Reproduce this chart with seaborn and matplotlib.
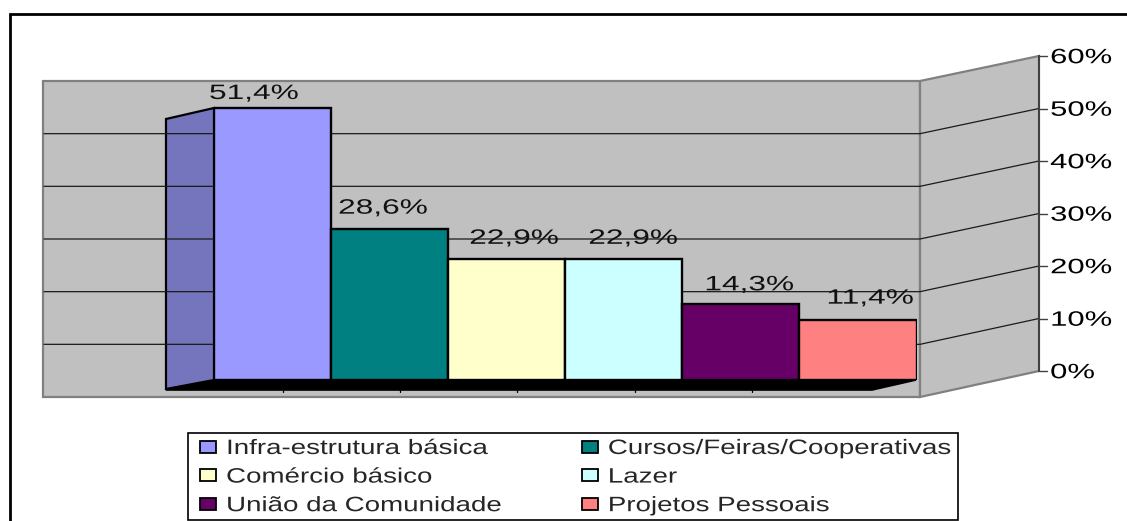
import matplotlib
matplotlib.use("Agg")
import matplotlib.pyplot as plt
import matplotlib.patheffects as pe
from matplotlib.patches import Patch, Polygon, Rectangle
from matplotlib.transforms import Affine2D
import seaborn as sns

# ---- data ----
categories = ["Infra-estrutura básica", "Cursos/Feiras/Cooperativas", "Comércio básico",
              "Lazer", "União da Comunidade", "Projetos Pessoais"]
values = [51.4, 28.6, 22.9, 22.9, 14.3, 11.4]
value_labels = ["51,4%", "28,6%", "22,9%", "22,9%", "14,3%", "11,4%"]
axis_ticks = [0, 10, 20, 30, 40, 50, 60]
axis_tick_labels = ["0%", "10%", "20%", "30%", "40%", "50%", "60%"]

# ---- styles ----
bar_colors = ["#9999FF", "#008080", "#FFFFCC", "#CCFFFF", "#660066", "#FF8080"]
side_color = "#7575BD"
wall_color = "#C0C0C0"
wall_edge = "#808080"
W, H = 1127, 521
FS = 15
# label placement relative to the bar's left edge / top, in pixels
label_dx = [-5, 7, 21, 23, 22, 27]
label_dy = [9, 15, 15, 15, 14, 16]


class Stretch(pe.AbstractPathEffect):
    """Widen real text horizontally, as in the stretched source picture."""
    def __init__(self, sx):
        super().__init__()
        self.sx = sx

    def draw_path(self, renderer, gc, tpath, affine, rgbFace=None):
        renderer.draw_path(gc, tpath, Affine2D().scale(self.sx, 1) + affine, rgbFace)


sns.set_style("white")
plt.rcParams["font.family"] = ["Liberation Sans", "DejaVu Sans"]

fig = plt.figure(figsize=(W / 100, H / 100), dpi=100, facecolor="white")


def rect(x0, y_top, x1, y_bot):
    return [x0 / W, 1 - y_bot / H, (x1 - x0) / W, (y_bot - y_top) / H]


# ---- pixel canvas for the 3D box ----
bg = fig.add_axes([0, 0, 1, 1], zorder=0)
bg.set_xlim(0, W)
bg.set_ylim(H, 0)
bg.axis("off")

# outer frame (left and top only)
bg.plot([10, 10, W], [H, 14, 14], color="black", lw=2, solid_joinstyle="miter")

back_y = lambda v: 397 - v * (397 - 81) / 60
side_y = lambda v: 371 - v * (371 - 56) / 60
bg.add_patch(Polygon([(43, 81), (920, 81), (920, 397), (43, 397)], fc=wall_color, ec=wall_edge, lw=1.6))
bg.add_patch(Polygon([(920, 81), (1039, 56), (1039, 371), (920, 397)], fc=wall_color, ec=wall_edge, lw=1.6))
for v in axis_ticks[1:-1]:
    bg.plot([44, 920, 1039], [back_y(v), back_y(v), side_y(v)], color="#1a1a1a", lw=0.9)

# floor and left side of the first bar
front_base, px_per_unit = 380, (380 - 108) / values[0]
bg.add_patch(Polygon([(166, 390), (214, front_base), (916, front_base), (872, 390)],
                     fc="black", ec="black", lw=1.2))
for tx in (283, 400, 517, 635, 752):
    bg.plot([tx, tx], [390, 392], color="black", lw=0.9)
top = front_base - values[0] * px_per_unit
bg.add_patch(Polygon([(166, top + 11), (214, top), (214, front_base), (166, 389)],
                     fc=side_color, ec="black", lw=1.6))

# ---- value axis on the right ----
ax_r = fig.add_axes(rect(1039, 56, 1060, 371), zorder=1)
ax_r.patch.set_alpha(0)
ax_r.set_ylim(axis_ticks[0], axis_ticks[-1])
ax_r.set_xticks([])
ax_r.set_yticks(axis_ticks, axis_tick_labels)
for s in ax_r.spines.values():
    s.set_visible(False)
ax_r.spines["left"].set_visible(True)
ax_r.spines["left"].set_color("#404040")
ax_r.spines["left"].set_linewidth(1.4)
ax_r.tick_params(axis="y", labelleft=False, labelright=False)
ax_r.yaxis.set_ticks_position("none")
for v, lab in zip(axis_ticks, axis_tick_labels):
    ax_r.plot([0, 0.38], [v, v], color="#404040", lw=1.0, clip_on=False)
    ax_r.annotate(lab, xy=(0, v), xycoords=("axes fraction", "data"),
                  xytext=(8, -5.2), textcoords="offset points",
                  fontsize=FS, color="black", ha="left", va="baseline",
                  path_effects=[Stretch(1.49)])
ax_r.set_xlim(0, 1)

# ---- bars ----
ax = fig.add_axes(rect(214, front_base - 60 * px_per_unit, 916.5, front_base), zorder=2)
ax.patch.set_alpha(0)
sns.barplot(x=categories, y=values, hue=categories, palette=bar_colors, dodge=False,
            legend=False, width=1.0, edgecolor="black", linewidth=1.7, saturation=1, ax=ax)
ax.set_xlim(-0.5, 5.5)
ax.set_ylim(0, 60)
ax.set_xticks([])
ax.set_yticks([])
ax.set_xlabel("")
ax.set_ylabel("")
for s in ax.spines.values():
    s.set_visible(False)
for i, (v, lab) in enumerate(zip(values, value_labels)):
    ax.annotate(lab, xy=(i - 0.5, v), xycoords="data",
                xytext=(label_dx[i] * 0.72, label_dy[i] * 0.72), textcoords="offset points",
                fontsize=FS, color="#111111", ha="left", va="baseline",
                annotation_clip=False, path_effects=[Stretch(1.52)])

# ---- legend ----
bg.add_patch(Rectangle((188, 433), 770, 87, fc="white", ec="black", lw=1.2, zorder=5))
order = [0, 2, 4, 1, 3, 5]
handles = [Patch(fc=bar_colors[i], ec="black", lw=1.3) for i in order]
labels = [categories[i] for i in order]
leg = fig.legend(handles, labels, ncols=2, frameon=False, fontsize=FS,
                 loc="upper left", bbox_to_anchor=(200 / W, 1 - 439 / H), borderaxespad=0, borderpad=0,
                 handlelength=0.77, handleheight=0.5, handletextpad=0.48,
                 columnspacing=7.08, labelspacing=0.46)
for t in leg.get_texts():
    t.set_path_effects([Stretch(1.33)])

fig.savefig("out.png", dpi=100)
